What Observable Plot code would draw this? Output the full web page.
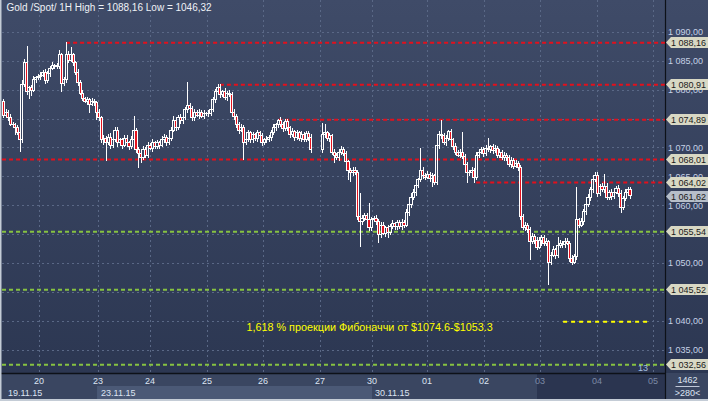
<!DOCTYPE html>
<html><head><meta charset="utf-8">
<script src="https://cdn.jsdelivr.net/npm/d3@7"></script>
<script src="https://cdn.jsdelivr.net/npm/@observablehq/plot@0.6"></script>
<style>
html,body{margin:0;padding:0;background:#3a4661;overflow:hidden}
#chart svg{display:block}
</style></head><body><div id="chart"></div>
<script>
const FONT = "'Liberation Sans', Arial, sans-serif";
const title = "Gold /Spot/ 1H High = 1088,16 Low = 1046,32";
const firstOpen = 1078.0;
// hourly closes, one per bar (null = no trading)
const closes = [
1075.6,1076.1,1075.1,1074.0,1073.9,1073.4,1072.6,1071.3,1080.8,1084.6,
1079.6,1080.3,1079.9,1081.7,1082.0,1082.3,1082.5,1083.0,1081.5,1082.7,
1083.7,1084.2,1084.1,1084.0,1086.0,1081.1,1081.7,1086.0,1085.1,1086.0,
1084.6,1083.0,1081.3,1079.4,1078.5,1078.0,1078.2,1077.5,1078.0,1077.7,
1076.1,1075.1,1071.3,1071.6,1070.8,1071.8,1070.4,1071.3,1073.0,1070.8,
1071.3,1070.4,1071.6,1070.8,1070.2,1071.3,1073.0,1069.6,1069.0,1068.2,
1069.6,1068.7,1070.4,1069.9,1070.8,1070.2,1070.8,1070.4,1071.3,1071.8,
1070.9,1071.6,1073.0,1074.7,1073.5,1075.1,1074.6,1075.1,1076.5,1077.2,
1076.8,1075.1,1076.1,1075.6,1076.1,1075.4,1075.9,1075.8,1075.9,1076.5,
1078.2,1079.6,1080.4,1079.1,1079.6,1078.7,1079.4,1079.1,1076.0,1075.3,
1073.9,1073.0,1073.5,1070.9,1071.3,1072.5,1071.3,1072.2,1071.6,1072.5,
1072.0,1070.9,1071.4,1071.3,1071.8,1072.5,1073.4,1073.9,1074.7,1074.0,
1073.2,1074.4,1073.4,1072.2,1072.7,1071.8,1072.5,1071.6,1072.2,1071.4,
1072.4,1071.8,1069.6,null,null,null,null,1072.2,1072.5,1071.6,
1072.0,1069.2,1068.7,1068.2,1069.2,1069.6,1068.9,1067.5,1066.1,1065.6,
1066.1,1065.7,1058.0,1057.2,1057.8,1058.2,1057.5,1056.1,1057.5,1057.8,
1057.2,1054.9,1056.6,1055.2,1056.1,1055.4,1056.4,1056.8,1056.3,1057.0,
1056.4,1057.0,1056.6,1058.7,1060.1,1061.4,1062.3,1063.5,1064.4,1066.1,
1065.2,1064.9,1065.4,1064.7,1065.1,1064.0,1070.4,1072.2,1072.0,1070.8,
1071.6,1072.7,1071.3,1070.1,1069.2,1068.7,1069.2,1068.5,1067.0,1065.6,
1065.7,1066.1,1064.9,1068.7,1069.2,1069.6,1069.0,1069.9,1069.6,1070.1,
1069.4,1069.9,1068.7,1069.2,1068.3,1068.7,1068.2,1067.0,1067.8,1066.8,
1067.3,1066.5,1058.0,1056.1,1056.6,1055.8,1053.7,1054.7,1054.0,1052.8,
1054.0,1054.4,1053.5,1053.7,1050.2,1051.4,1052.3,1051.4,1053.0,1053.5,
1053.2,1053.8,1053.5,1050.9,1050.2,1051.1,1057.5,1056.6,1057.2,1058.9,
1060.1,1061.4,1062.7,1064.4,1065.2,1062.1,1063.3,1062.7,1063.3,1061.4,
1062.3,1061.6,1062.3,1062.9,1062.1,1059.7,1061.2,1062.3,1062.7,1061.62
];
// upper wick length above the body, per bar
const upWick = [
0.4,0.5,0.3,0.6,0.4,0.3,0.5,0.4,0.8,0.6, 2.9,0.4,0.5,0.6,0.3,0.4,0.5,0.4,0.6,0.5,
0.4,0.6,0.3,0.5,0.8,0.4,0.5,2.16,0.6,1.4, 0.4,0.3,0.5,0.4,0.6,0.3,0.5,0.4,0.6,0.3,
0.4,0.5,0.3,0.6,0.4,0.5,0.7,0.4,0.5,0.6, 0.4,0.3,0.6,0.5,0.4,0.7,2.4,0.4,0.5,0.3,
0.6,0.4,0.5,0.3,0.6,0.4,0.5,0.3,0.6,0.5, 0.4,0.6,0.5,0.7,0.4,0.5,0.6,0.4,0.5,4.1,
0.5,0.4,0.6,0.3,0.5,0.4,0.6,0.3,0.5,0.4, 0.6,0.5,0.6,0.5,0.4,0.6,0.3,0.5,0.4,0.6,
0.4,0.5,0.6,0.4,0.5,0.6,0.4,0.5,0.3,0.6, 0.4,0.5,0.3,0.6,0.4,0.5,0.6,0.4,0.2,0.5,
0.4,0.6,0.5,0.3,0.6,0.4,0.5,0.3,0.6,0.4, 0.5,0.4,0.6,0,0,0,0,2.0,1.5,0.4,
0.5,0.3,0.6,0.4,0.5,0.6,0.4,0.5,0.3,0.4, 0.6,0.5,0.4,4.1,0.6,0.5,0.4,2.9,0.5,0.4,
0.6,0.4,0.5,0.6,0.4,0.5,0.3,0.6,0.4,0.5, 0.4,0.6,0.5,0.6,0.4,0.7,0.5,0.6,0.4,3.8,
0.5,0.4,0.6,0.3,0.5,0.4,0.6,0.7,2.5,0.5, 0.6,0.4,0.5,0.3,0.6,0.4,0.5,3.5,0.4,0.5,
0.4,0.6,0.3,0.5,0.6,0.4,0.5,0.6,1.7,0.4, 0.5,0.6,0.4,0.5,0.3,0.6,0.4,0.5,0.6,0.4,
0.5,0.3,0.4,0.5,0.6,0.4,0.5,0.6,0.4,0.5, 0.6,0.4,0.5,0.6,0.4,0.5,0.6,0.4,1.6,0.5,
0.4,0.6,0.5,0.4,0.6,0.5,5.6,0.4,0.6,0.5, 0.4,0.6,0.5,0.6,0.6,0.5,0.4,0.6,2.1,0.5,
0.4,0.6,0.5,0.4,0.6,0.5,0.4,0.6,0.5,0.4
];
// lower wick length below the body, per bar
const downWick = [
0.5,0.4,0.6,0.3,0.5,1.2,0.4,2.1,0.5,0.4, 0.6,1.2,1.0,0.4,0.5,0.3,0.6,0.4,0.5,0.4,
0.5,0.3,0.6,0.4,0.5,1.5,0.4,0.6,0.5,0.4, 0.5,0.4,0.6,0.3,0.5,0.4,0.6,1.5,0.4,0.5,
1.4,0.5,0.6,0.8,3.2,0.4,0.6,0.5,0.4,0.7, 0.5,0.6,0.4,0.5,0.7,0.4,0.5,0.6,2.5,0.9,
0.4,0.6,0.5,0.4,0.6,0.5,0.4,0.6,0.3,0.5, 0.6,0.4,0.5,0.3,0.6,0.4,0.5,0.6,0.4,0.5,
0.4,0.6,0.5,0.4,0.6,0.3,0.5,0.4,0.6,0.5, 0.4,0.5,0.3,0.6,0.4,0.5,0.6,0.4,0.5,0.6,
0.5,0.6,0.4,3.1,0.5,0.4,0.6,0.5,0.4,0.6, 0.5,0.6,0.4,0.5,0.3,0.6,0.4,0.5,0.6,0.4,
0.5,0.4,0.6,0.5,0.4,0.6,0.5,0.4,0.6,0.5, 0.4,0.6,0.5,0,0,0,0,0.6,0.5,0.4,
0.6,0.5,1.4,0.4,0.6,0.5,0.4,0.6,1.7,1.6, 0.5,0.4,0.5,4.4,0.6,0.5,0.4,0.6,0.5,0.4,
0.6,1.4,0.5,0.4,0.6,1.0,0.5,0.4,0.6,0.5, 0.4,0.6,0.5,0.4,0.6,0.5,0.4,0.6,0.5,0.4,
0.6,0.5,0.4,0.6,1.5,0.5,0.4,0.6,0.5,0.4, 0.6,0.5,0.4,0.6,0.5,0.4,0.6,0.5,0.4,1.7,
0.5,0.4,1.1,0.6,0.5,0.4,0.6,0.5,0.4,0.6, 0.5,0.4,0.6,0.5,0.4,0.6,0.5,0.4,0.6,0.5,
0.4,0.6,0.5,0.4,0.6,0.5,3.1,0.4,0.6,0.5, 0.4,1.0,0.5,0.6,3.88,0.5,0.4,0.6,0.5,0.4,
0.6,0.5,0.4,0.6,0.5,0.4,0.6,0.5,0.4,0.6, 0.5,0.4,0.6,0.5,0.4,0.6,0.5,0.4,0.6,0.5,
0.4,0.6,0.5,0.4,0.6,1.0,0.5,0.4,0.6,0.5
];
const dayStart = [15.4, 40.7, 63, 87.5, 111.5, 136, 158.3, 181.9, 206.3, 230.4, 254.8, 278.9];
const dayLabels = ["20","23","24","25","26","27","30","01","02","03","04","05"];
const weekLabels = ["19.11.15","23.11.15","30.11.15"];
const weekDayIndex = [null, 1, 6];
const priceTicks = [1035,1040,1045,1050,1055,1060,1065,1070,1075,1080,1085,1090];
const redLevels = [1088.16, 1080.91, 1074.89, 1068.01, 1064.02];
const redFrom = [27, 93, 118, -0.5, 203];
const greenLevels = [1055.54, 1045.52, 1032.56];
const lastPrice = 1061.62;
const fibLevel = 1040.0, fibFrom = 240.3, fibTo = 276.7;
const fibLabelAt = 104.2;
const fibText = "1,618 % проекции Фибоначчи от $1074.6-$1053.3";
const totalBars = "1462", visibleBars = ">280<", markerCount = "13";

const bars = [];
let prev = firstOpen;
closes.forEach((c, i) => {
  if (c == null) return;
  const open = prev, top = Math.max(open, c), bot = Math.min(open, c);
  bars.push({i, open, close: c, top, bot, high: top + upWick[i], low: bot - downWick[i], down: c < open});
  prev = c;
});
const X0 = -0.515, X1 = 284.03;
const allTags = [...redLevels, ...greenLevels, lastPrice];
const fmt = v => { const s = v.toFixed(2).replace(".", ","); return s[0] + " " + s.slice(1); };

function tags(levels, fill) {
  return (index, {y}, values, {width, marginRight}) => {
    const g = d3.create("svg:g").attr("font-family", FONT).attr("font-size", 9).attr("text-anchor", "start");
    const xr = width - marginRight;
    for (const v of levels) {
      const yy = Math.round(y(v)) + 0.5;
      g.append("path").attr("d", `M${xr + 1},${yy} L${xr + 6},${yy - 5.5} H${width} V${yy + 5.5} H${xr + 6} Z`)
        .attr("fill", fill).attr("stroke", "none");
      g.append("text").attr("x", xr + 6).attr("y", yy).attr("dy", "0.35em").attr("fill", "#1a1a1a").attr("text-anchor", "start").text(fmt(v));
    }
    return g.node();
  };
}

function chrome(index, {x, y}, values, {width, height, marginRight, marginBottom}) {
  const g = d3.create("svg:g").attr("font-family", FONT).attr("font-size", 9).attr("text-anchor", "start");
  const xr = width - marginRight, yb = height - marginBottom;
  g.append("rect").attr("x", 0).attr("y", yb).attr("width", width).attr("height", marginBottom).attr("fill", "#3a4661");
  g.append("rect").attr("x", x(dayStart[9]) - 3).attr("y", yb).attr("width", xr - x(dayStart[9]) + 3).attr("height", 26).attr("fill", "#2b3550");
  g.append("rect").attr("x", x(dayStart[1]) - 1).attr("y", yb + 13).attr("width", x(dayStart[6]) - x(dayStart[1]) + 1).attr("height", 13).attr("fill", "#4b5976");
  g.append("line").attr("x1", 0).attr("x2", xr).attr("y1", yb + 0.5).attr("y2", yb + 0.5).attr("stroke", "#0d1118").attr("stroke-width", 1.5);
  g.append("line").attr("x1", xr + 0.5).attr("x2", xr + 0.5).attr("y1", 0).attr("y2", height - 2).attr("stroke", "#0d1118").attr("stroke-width", 1.2);
  g.append("rect").attr("x", 0).attr("y", height - 2).attr("width", width).attr("height", 2).attr("fill", "#c4ccd6");
  g.append("rect").attr("x", 0).attr("y", 0).attr("width", 1.5).attr("height", height).attr("fill", "#c4ccd6");
  dayStart.forEach((d, k) => {
    g.append("text").attr("x", x(d)).attr("y", yb + 8).attr("dy", "0.35em").attr("text-anchor", "middle")
      .attr("fill", k >= 9 ? "#7d8aa6" : "#dde4f2").text(dayLabels[k]);
  });
  weekLabels.forEach((w, k) => {
    const px = weekDayIndex[k] == null ? 8 : x(dayStart[weekDayIndex[k]]) + 3;
    g.append("text").attr("x", px).attr("y", yb + 19.5).attr("dy", "0.35em").attr("text-anchor", "start").attr("fill", "#dde4f2").text(w);
  });
  const cx = (xr + width) / 2 + 1;
  g.append("text").attr("x", cx).attr("y", yb + 6.5).attr("dy", "0.35em").attr("text-anchor", "middle").attr("fill", "#dde4f2").text(totalBars);
  g.append("line").attr("x1", cx - 12).attr("x2", cx + 12).attr("y1", yb + 13.5).attr("y2", yb + 13.5).attr("stroke", "#c0c8d8");
  g.append("text").attr("x", cx).attr("y", yb + 20).attr("dy", "0.35em").attr("text-anchor", "middle").attr("fill", "#dde4f2").text(visibleBars);
  g.append("text").attr("x", xr - 22).attr("y", yb - 5.5).attr("dy", "0.35em").attr("text-anchor", "middle").attr("fill", "#a6bfe0").text(markerCount);
  for (const v of priceTicks) {
    const py = y(v);
    // a tick label fully covered by a level tag is not visible in the original
    if (allTags.some(t => Math.abs(y(t) - py) < 4)) continue;
    g.append("text").attr("x", xr + 3).attr("y", py).attr("dy", "0.35em").attr("text-anchor", "start").attr("fill", "#c6d2e6").text(fmt(v));
  }
  return g.node();
}

const chart = Plot.plot({
  width: 708, height: 401,
  marginLeft: 2, marginRight: 43, marginTop: 0, marginBottom: 28,
  x: {domain: [X0, X1], axis: null},
  y: {domain: [1031.05, 1095.47], axis: null},
  color: {type: "identity"},
  style: {background: "linear-gradient(to bottom, #3f4b68 0%, #2c3752 93%, #3a4661 93%)", fontFamily: FONT},
  marks: [
    Plot.ruleY(priceTicks, {stroke: "#5a6886", strokeDasharray: "2,3", shapeRendering: "crispEdges"}),
    Plot.ruleX(dayStart, {stroke: "#5a6886", strokeDasharray: "2,3", shapeRendering: "crispEdges"}),
    Plot.ruleY(redLevels, {y: d => d, x1: (d, k) => redFrom[k], x2: X1, stroke: "#e3101c", strokeWidth: 2, strokeDasharray: "4,3"}),
    Plot.ruleY(greenLevels, {y: d => d, x1: X0, x2: X1, stroke: "#86c241", strokeWidth: 2, strokeDasharray: "4,3"}),
    Plot.ruleX(bars, {x: "i", y1: "top", y2: "high", stroke: "#ffffff", shapeRendering: "crispEdges"}),
    Plot.ruleX(bars, {x: "i", y1: "low", y2: "bot", stroke: "#ffffff", shapeRendering: "crispEdges"}),
    Plot.rect(bars, {x1: d => d.i - 0.45, x2: d => d.i + 0.45, y1: "open", y2: "close",
      fill: d => d.down ? "#e4121e" : "none", stroke: "#ffffff", strokeWidth: 1, shapeRendering: "crispEdges"}),
    Plot.ruleY([fibLevel], {x1: fibFrom, x2: fibTo, stroke: "#ffff00", strokeWidth: 2, strokeDasharray: "4,4"}),
    Plot.text([fibText], {x: fibLabelAt, y: fibLevel, dy: 6, text: d => d, textAnchor: "start", fill: "#ffff00", fontSize: 10.8}),
    chrome,
    tags(redLevels, "#d8d8c4"),
    tags(greenLevels, "#d8d8c4"),
    tags([lastPrice], "#b6bec9"),
    Plot.text([title], {frameAnchor: "top-left", dx: 4, dy: 3, text: d => d, textAnchor: "start", lineAnchor: "top", fill: "#eef1f6", fontSize: 10})
  ]
});
document.getElementById("chart").appendChild(chart);
</script>
</body></html>
